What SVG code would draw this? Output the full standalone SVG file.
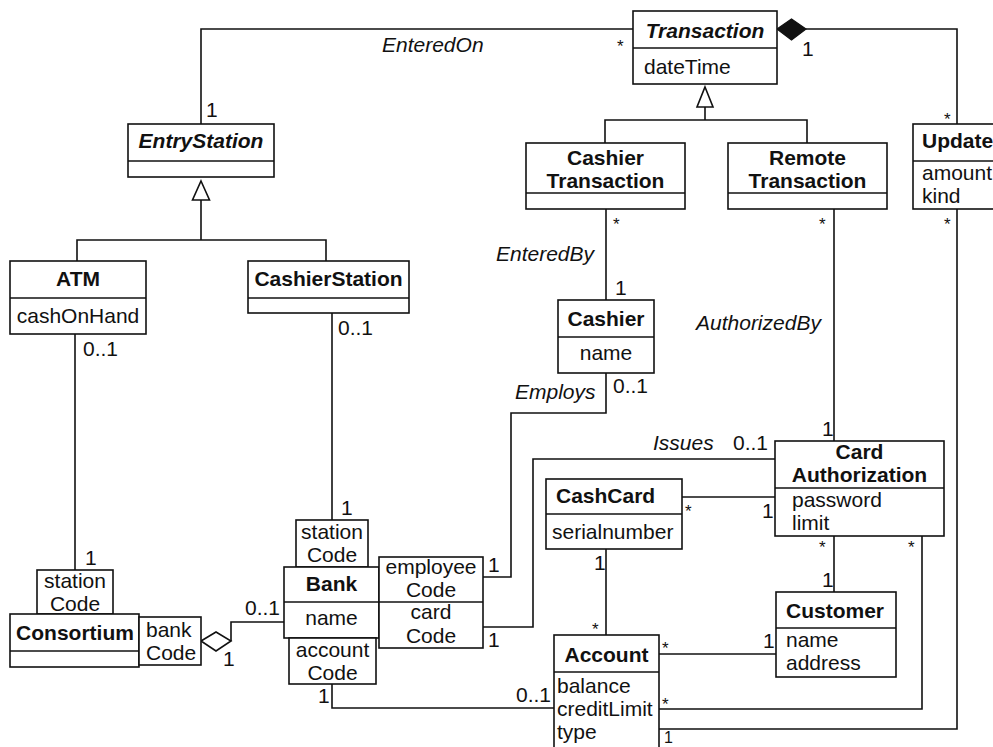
<svg xmlns="http://www.w3.org/2000/svg" width="993" height="747" viewBox="0 0 993 747">
<style>
.box{fill:#fff;stroke:#111;stroke-width:1.6}
.ln{fill:none;stroke:#111;stroke-width:1.6}
text{font-family:"Liberation Sans",Arial,sans-serif;font-size:21px;fill:#111}
.b{font-weight:bold}
.bi{font-weight:bold;font-style:italic}
.i{font-style:italic}
.c{text-anchor:middle}
.s{font-size:17px}
</style>
<rect width="993" height="747" fill="#fff"/>
<g id="connectors">
  <path class="ln" d="M201,124 V29 H633"/>
  <polygon points="777,29 791.5,19 806,29 791.5,40" fill="#111" stroke="#111" stroke-width="1.2"/>
  <path class="ln" d="M806,29 H957 V124"/>
  <polygon class="box" points="705,87 713,107 697,107"/>
  <path class="ln" d="M705,107 V120 M605,143 V120 H807 V143"/>
  <polygon class="box" points="201,181 209.5,200 192.5,200"/>
  <path class="ln" d="M201,200 V240 M77,261 V240 H326 V261"/>
  <path class="ln" d="M606,209 V300"/>
  <path class="ln" d="M834,209 V441"/>
  <path class="ln" d="M957,209 V729 H659"/>
  <path class="ln" d="M75,334 V570"/>
  <path class="ln" d="M332,313 V520"/>
  <polygon class="box" points="201,641 216,632 231,641 216,651"/>
  <path class="ln" d="M231,641 V622 H284"/>
  <path class="ln" d="M157,641 H201"/>
  <path class="ln" d="M483,577 H511 V413 H606 V373"/>
  <path class="ln" d="M483,627 H533 V459 H775"/>
  <path class="ln" d="M682,497 H775"/>
  <path class="ln" d="M606,549 V635"/>
  <path class="ln" d="M834,536 V592"/>
  <path class="ln" d="M659,654 H776"/>
  <path class="ln" d="M659,709 H922 V536"/>
  <path class="ln" d="M332,684 V708 H554"/>
  <text class="i" x="382" y="52">EnteredOn</text>
  <text x="206" y="117">1</text>
  <text class="s" x="617" y="52">*</text>
  <text x="802" y="56">1</text>
  <text class="s" x="944" y="125">*</text>
  <text class="s" x="613" y="230">*</text>
  <text class="i" x="496" y="261">EnteredBy</text>
  <text x="615" y="295">1</text>
  <text class="s" x="819" y="230">*</text>
  <text class="i" x="696" y="330">AuthorizedBy</text>
  <text x="822" y="436">1</text>
  <text class="s" x="944" y="230">*</text>
  <text x="664" y="743" style="font-size:16px">1</text>
  <text x="83" y="356">0..1</text>
  <text x="85" y="565">1</text>
  <text x="338" y="335">0..1</text>
  <text x="341" y="515">1</text>
  <text x="245" y="615">0..1</text>
  <text x="223" y="666">1</text>
  <text x="488" y="572">1</text>
  <text class="i" x="515" y="399">Employs</text>
  <text x="613" y="393">0..1</text>
  <text x="488" y="647">1</text>
  <text class="i" x="653" y="450">Issues</text>
  <text x="733" y="450">0..1</text>
  <text class="s" x="685" y="517">*</text>
  <text x="762" y="518">1</text>
  <text x="594" y="570">1</text>
  <text class="s" x="592" y="635">*</text>
  <text class="s" x="819" y="553">*</text>
  <text x="822" y="587">1</text>
  <text class="s" x="662" y="654">*</text>
  <text x="763" y="648">1</text>
  <text class="s" x="662" y="710">*</text>
  <text class="s" x="908" y="553">*</text>
  <text x="318" y="703">1</text>
  <text x="516" y="702">0..1</text>
</g>
<g id="Transaction">
  <rect class="box" x="633" y="11" width="144" height="73"/>
  <line class="ln" x1="633" y1="48" x2="777" y2="48"/>
  <text class="bi c" x="705" y="38">Transaction</text>
  <text x="644" y="74">dateTime</text>
</g>
<g id="EntryStation">
  <rect class="box" x="128" y="124" width="146" height="53"/>
  <line class="ln" x1="128" y1="161" x2="274" y2="161"/>
  <text class="bi c" x="201" y="148">EntryStation</text>
</g>
<g id="CashierTransaction">
  <rect class="box" x="526" y="143" width="159" height="66"/>
  <line class="ln" x1="526" y1="193" x2="685" y2="193"/>
  <text class="b c" x="605.5" y="165">Cashier</text>
  <text class="b c" x="605.5" y="188">Transaction</text>
</g>
<g id="RemoteTransaction">
  <rect class="box" x="728" y="143" width="159" height="66"/>
  <line class="ln" x1="728" y1="193" x2="887" y2="193"/>
  <text class="b c" x="807.5" y="165">Remote</text>
  <text class="b c" x="807.5" y="188">Transaction</text>
</g>
<g id="Update">
  <rect class="box" x="913" y="124" width="100" height="85"/>
  <line class="ln" x1="913" y1="161" x2="1013" y2="161"/>
  <text class="b" x="922" y="148">Update</text>
  <text x="922" y="180">amount</text>
  <text x="922" y="203">kind</text>
</g>
<g id="ATM">
  <rect class="box" x="10" y="261" width="136" height="73"/>
  <line class="ln" x1="10" y1="298" x2="146" y2="298"/>
  <text class="b c" x="78" y="286">ATM</text>
  <text class="c" x="78" y="323">cashOnHand</text>
</g>
<g id="CashierStation">
  <rect class="box" x="248" y="261" width="161" height="52"/>
  <line class="ln" x1="248" y1="298" x2="409" y2="298"/>
  <text class="b c" x="328.5" y="286">CashierStation</text>
</g>
<g id="Cashier">
  <rect class="box" x="558" y="300" width="96" height="73"/>
  <line class="ln" x1="558" y1="337" x2="654" y2="337"/>
  <text class="b c" x="606" y="326">Cashier</text>
  <text class="c" x="606" y="360">name</text>
</g>
<g id="CardAuthorization">
  <rect class="box" x="775" y="441" width="169" height="95"/>
  <line class="ln" x1="775" y1="488" x2="944" y2="488"/>
  <text class="b c" x="859.5" y="459">Card</text>
  <text class="b c" x="859.5" y="482">Authorization</text>
  <text x="792" y="507">password</text>
  <text x="792" y="530">limit</text>
</g>
<g id="CashCard">
  <rect class="box" x="546" y="479" width="136" height="70"/>
  <line class="ln" x1="546" y1="514" x2="682" y2="514"/>
  <text class="b" x="556" y="503">CashCard</text>
  <text x="552" y="539">serialnumber</text>
</g>
<g id="Customer">
  <rect class="box" x="776" y="592" width="120" height="85"/>
  <line class="ln" x1="776" y1="628" x2="896" y2="628"/>
  <text class="b" x="786" y="618">Customer</text>
  <text x="786" y="647">name</text>
  <text x="786" y="670">address</text>
</g>
<g id="Account">
  <rect class="box" x="554" y="635" width="105" height="130"/>
  <line class="ln" x1="554" y1="672" x2="659" y2="672"/>
  <text class="b c" x="606.5" y="662">Account</text>
  <text x="557" y="693">balance</text>
  <text x="557" y="716">creditLimit</text>
  <text x="557" y="739">type</text>
</g>
<g id="Bank">
  <rect class="box" x="296" y="520" width="72" height="47"/>
  <text class="c" x="332" y="539">station</text>
  <text class="c" x="332" y="562">Code</text>
  <rect class="box" x="284" y="567" width="95" height="71"/>
  <line class="ln" x1="284" y1="602" x2="379" y2="602"/>
  <text class="b c" x="331.5" y="591">Bank</text>
  <text class="c" x="331.5" y="625">name</text>
  <rect class="box" x="379" y="557" width="104" height="91"/>
  <line class="ln" x1="379" y1="602" x2="483" y2="602"/>
  <text class="c" x="431" y="574">employee</text>
  <text class="c" x="431" y="597">Code</text>
  <text class="c" x="431" y="619">card</text>
  <text class="c" x="431" y="643">Code</text>
  <rect class="box" x="289" y="638" width="87" height="46"/>
  <text class="c" x="332.5" y="657">account</text>
  <text class="c" x="332.5" y="680">Code</text>
</g>
<g id="Consortium">
  <rect class="box" x="37" y="570" width="76" height="44"/>
  <text class="c" x="75" y="588">station</text>
  <text class="c" x="75" y="611">Code</text>
  <rect class="box" x="10" y="614" width="129" height="53"/>
  <line class="ln" x1="10" y1="651" x2="139" y2="651"/>
  <text class="b c" x="75" y="640">Consortium</text>
  <rect class="box" x="139" y="617" width="62" height="48"/>
  <text x="146" y="637">bank</text>
  <text x="146" y="660">Code</text>
</g>
</svg>
